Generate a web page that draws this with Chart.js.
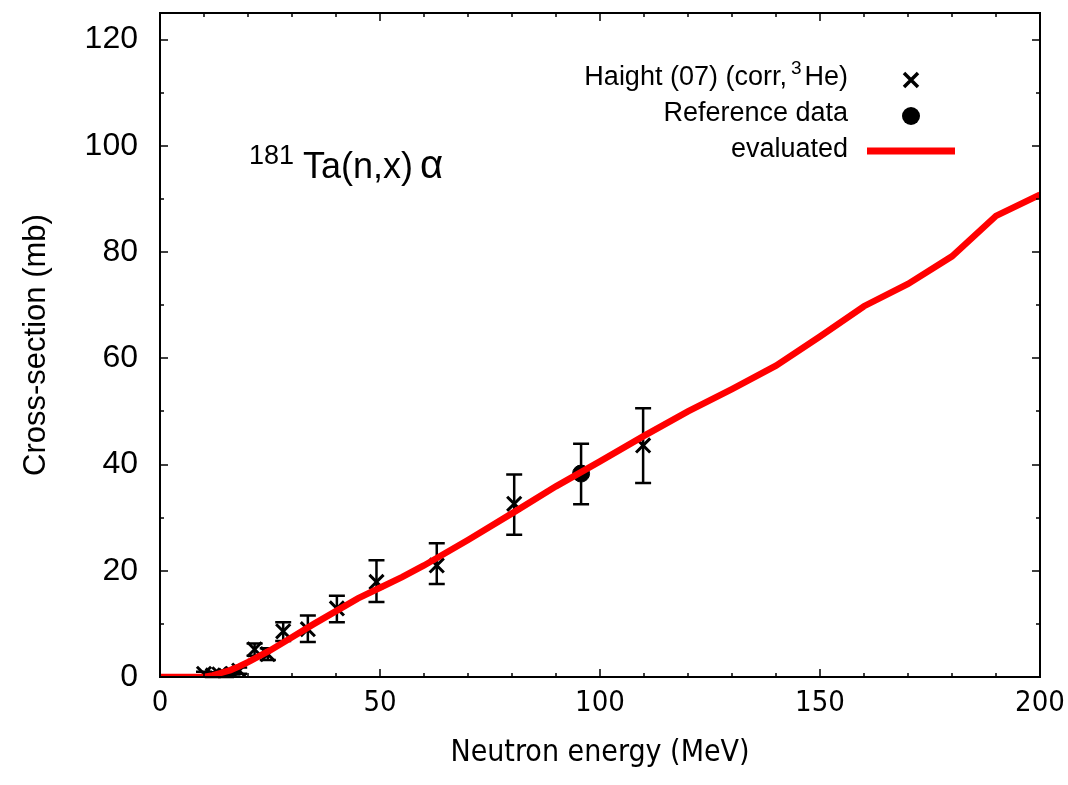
<!DOCTYPE html>
<html>
<head>
<meta charset="utf-8">
<script src="https://cdn.jsdelivr.net/npm/chart.js@4.4.1/dist/chart.umd.min.js"></script>
<style>
  html, body { margin: 0; padding: 0; background: #fff; }
  #wrap { width: 1068px; height: 785px; position: relative; }
</style>
</head>
<body>
<div id="wrap"><canvas id="chart" width="1068" height="785"></canvas></div>
<script>
// evaluated curve
const evalEnergy = [0, 5, 10, 12, 14, 16, 18, 20, 25, 30, 35, 40, 45, 50, 55, 60, 70, 80, 90, 100, 110, 120, 130, 140, 150, 160, 170, 180, 190, 200];
const evalXs = [0, 0, 0, 0.3, 0.8, 1.3, 2.0, 2.8, 5.0, 7.5, 10.0, 12.4, 14.8, 16.8, 18.8, 21.0, 25.8, 30.8, 35.9, 40.6, 45.4, 50.0, 54.2, 58.6, 64.1, 69.8, 74.0, 79.2, 86.8, 90.8];

// Haight (07) measurements
const haightEnergy = [10, 12, 13.5, 15, 16.5, 18, 21.5, 24.5, 28, 33.6, 40.2, 49.2, 62.9, 80.5, 109.8];
const haightXs     = [0.6, 0.3, 0.5, 0.2, 0.6, 1.2, 5.2, 4.3, 8.6, 9.0, 12.9, 17.9, 21.0, 32.6, 43.6];
const haightLow    = [0.2, 0.0, 0.1, 0.0, 0.1, 0.6, 4.0, 3.2, 6.8, 6.6, 10.3, 14.1, 17.5, 26.8, 36.5];
const haightHigh   = [1.0, 0.7, 0.9, 0.5, 1.1, 1.8, 6.3, 5.4, 10.3, 11.6, 15.3, 22.0, 25.2, 38.1, 50.6];

// reference point
const refEnergy = [95.7];
const refXs     = [38.3];
const refLow    = [32.5];
const refHigh   = [43.9];

const xTicks = [0, 50, 100, 150, 200];
const yTicks = [0, 20, 40, 60, 80, 100, 120];

const FONT = 'Liberation Sans, Arial, sans-serif';
const NARROW = '"DejaVu Sans Condensed", "Liberation Sans", sans-serif';

// error bars, drawn under the markers and the curve
const errorBars = {
    id: 'errorBars',
    beforeDatasetsDraw(chart) {
        const ctx = chart.ctx;
        const xs = chart.scales.x, ys = chart.scales.y;
        ctx.save();
        ctx.strokeStyle = '#000';
        ctx.lineWidth = 2.5;
        function bars(e, lo, hi) {
            for (let i = 0; i < e.length; i++) {
                const px = xs.getPixelForValue(e[i]);
                const p1 = ys.getPixelForValue(lo[i]);
                const p2 = ys.getPixelForValue(hi[i]);
                ctx.beginPath();
                ctx.moveTo(px, p1); ctx.lineTo(px, p2);
                ctx.moveTo(px - 8, p1); ctx.lineTo(px + 8, p1);
                ctx.moveTo(px - 8, p2); ctx.lineTo(px + 8, p2);
                ctx.stroke();
            }
        }
        bars(haightEnergy, haightLow, haightHigh);
        bars(refEnergy, refLow, refHigh);
        ctx.restore();
    }
};

// gnuplot style frame with inward ticks, legend and reaction label
const frame = {
    id: 'frame',
    afterDraw(chart) {
        const ctx = chart.ctx;
        const a = chart.chartArea;
        const xs = chart.scales.x, ys = chart.scales.y;
        ctx.save();
        ctx.strokeStyle = '#000';
        ctx.lineWidth = 2;
        ctx.strokeRect(a.left, a.top, a.right - a.left, a.bottom - a.top);
        ctx.lineWidth = 1.5;
        ctx.beginPath();
        for (let v = 0; v <= 200; v += 10) {
            const px = Math.round(xs.getPixelForValue(v));
            const len = v % 50 === 0 ? 8 : 4;
            ctx.moveTo(px, a.bottom); ctx.lineTo(px, a.bottom - len);
            ctx.moveTo(px, a.top); ctx.lineTo(px, a.top + len);
        }
        for (let v = 0; v <= 120; v += 10) {
            const py = Math.round(ys.getPixelForValue(v));
            const len = v % 20 === 0 ? 8 : 4;
            ctx.moveTo(a.left, py); ctx.lineTo(a.left + len, py);
            ctx.moveTo(a.right, py); ctx.lineTo(a.right - len, py);
        }
        ctx.stroke();

        // legend
        ctx.fillStyle = '#000';
        ctx.textBaseline = 'middle';
        ctx.textAlign = 'right';
        ctx.font = '27px ' + FONT;
        const tx = 848;
        // "Haight (07) (corr,3He)" with raised 3
        const partB = 'He)';
        ctx.fillText(partB, tx, 78);
        const wB = ctx.measureText(partB).width;
        ctx.font = '19px ' + FONT;
        ctx.fillText('3', tx - wB - 3, 69);
        const w3 = ctx.measureText('3').width;
        ctx.font = '27px ' + FONT;
        ctx.fillText('Haight (07) (corr,', tx - wB - w3 - 7, 78);
        ctx.fillText('Reference data', tx, 114);
        ctx.fillText('evaluated', tx, 150);

        ctx.strokeStyle = '#000';
        ctx.lineWidth = 3.5;
        ctx.beginPath();
        ctx.moveTo(904, 73); ctx.lineTo(918, 87);
        ctx.moveTo(918, 73); ctx.lineTo(904, 87);
        ctx.stroke();
        ctx.fillStyle = '#000';
        ctx.beginPath();
        ctx.arc(911, 116, 9, 0, Math.PI * 2);
        ctx.fill();
        ctx.strokeStyle = '#ff0000';
        ctx.lineWidth = 7;
        ctx.beginPath();
        ctx.moveTo(867, 151); ctx.lineTo(955, 151);
        ctx.stroke();

        // reaction label
        ctx.fillStyle = '#000';
        ctx.textAlign = 'left';
        ctx.textBaseline = 'alphabetic';
        ctx.font = '27px ' + FONT;
        ctx.fillText('181', 249, 164);
        ctx.font = '36px ' + FONT;
        ctx.fillText('Ta(n,x)', 303, 178);
        ctx.font = '40px ' + FONT;
        ctx.fillText('\u03b1', 420, 178);
        ctx.restore();
    }
};

function noPad(scale) {
    scale.paddingLeft = 0;
    scale.paddingRight = 0;
    scale.paddingTop = 0;
    scale.paddingBottom = 0;
}

const ctx = document.getElementById('chart').getContext('2d');
new Chart(ctx, {
    type: 'scatter',
    data: {
        datasets: [{
            label: 'evaluated',
            type: 'line',
            data: evalEnergy.map((e, i) => ({ x: e, y: evalXs[i] })),
            borderColor: '#ff0000',
            borderWidth: 6.5,
            pointRadius: 0,
            tension: 0,
            fill: false,
            order: 0
        }, {
            label: 'Reference data',
            data: refEnergy.map((e, i) => ({ x: e, y: refXs[i] })),
            pointStyle: 'circle',
            pointRadius: 8.5,
            backgroundColor: '#000',
            borderColor: '#000',
            order: 1
        }, {
            label: 'Haight (07) (corr,3He)',
            data: haightEnergy.map((e, i) => ({ x: e, y: haightXs[i] })),
            pointStyle: 'crossRot',
            pointRadius: 10,
            borderColor: '#000',
            borderWidth: 3,
            order: 2
        }]
    },
    options: {
        responsive: false,
        animation: false,
        layout: { padding: { left: 0, right: 28, top: 10, bottom: 0 } },
        plugins: {
            legend: { display: false },
            tooltip: { enabled: false }
        },
        scales: {
            x: {
                type: 'linear',
                min: 0,
                max: 200,
                grid: { display: false, drawTicks: false },
                border: { display: false },
                afterBuildTicks(scale) { scale.ticks = xTicks.map(v => ({ value: v })); },
                afterFit(scale) { scale.height = 108; noPad(scale); },
                ticks: {
                    color: '#000',
                    padding: 9,
                    font: { family: NARROW, size: 29 },
                    maxRotation: 0
                },
                title: {
                    display: true,
                    text: 'Neutron energy (MeV)',
                    color: '#000',
                    font: { family: NARROW, size: 30 },
                    padding: { top: 4, bottom: 14 }
                }
            },
            y: {
                type: 'linear',
                min: 0,
                max: 125,
                grid: { display: false, drawTicks: false },
                border: { display: false },
                afterBuildTicks(scale) { scale.ticks = yTicks.map(v => ({ value: v })); },
                afterFit(scale) { scale.width = 160; noPad(scale); },
                ticks: {
                    color: '#000',
                    padding: 22,
                    font: { family: FONT, size: 32 }
                },
                title: {
                    display: true,
                    text: 'Cross-section (mb)',
                    color: '#000',
                    font: { family: FONT, size: 31 },
                    padding: { top: 18, bottom: 0 }
                }
            }
        }
    },
    plugins: [errorBars, frame]
});
</script>
</body>
</html>
